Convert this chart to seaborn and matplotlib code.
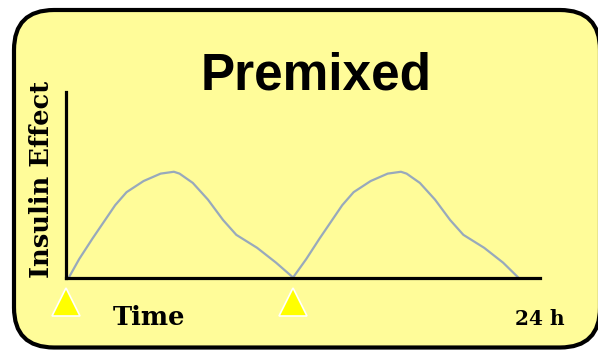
import matplotlib
matplotlib.use("Agg")
import matplotlib.pyplot as plt
from matplotlib.patches import FancyBboxPatch
import seaborn as sns
import pandas as pd

# Insulin action profile over one day, two premixed injections (hours, relative effect)
hours = [0.15, 0.7, 1.4, 2.0, 2.6, 3.2, 4.1, 5.0, 5.7, 6.0, 6.7, 7.5, 8.3, 9.0, 10.1, 11.1, 12.0,
         12.7, 13.4, 14.0, 14.6, 15.2, 16.1, 17.0, 17.7, 18.0, 18.7, 19.5, 20.3, 21.0, 22.1, 23.1, 23.9]
effect = [0, 10, 21, 30, 39, 46, 52, 56, 57, 56, 51, 42, 31, 23, 16, 8, 0,
          10, 21, 30, 39, 46, 52, 56, 57, 56, 51, 42, 31, 23, 16, 8, 0]
injection_hours = [0, 12]

title = "Premixed"
y_label = "Insulin Effect"
x_label = "Time"
end_label = "24 h"

sns.set_style("white")
plt.rcParams["font.family"] = ["DejaVu Sans"]
plt.rcParams["text.color"] = "black"

W, H, DPI = 598, 351, 100
fig = plt.figure(figsize=(W / DPI, H / DPI), dpi=DPI)
fig.patch.set_facecolor("white")

# rounded panel, drawn in inches so the corners stay circular
px = 1.0 / DPI
panel = FancyBboxPatch((14 * px, (H - 347.5) * px), 586 * px, 337.5 * px,
                       boxstyle=f"round,pad=0,rounding_size={40 * px}",
                       transform=fig.dpi_scale_trans, facecolor="#FFFC99",
                       edgecolor="black", linewidth=3.0, zorder=-1)
fig.patches.append(panel)

# axes placed in pixel terms
left, right, bottom, top = 66, 540, H - 277.5, H - 92
ax = fig.add_axes([left / W, bottom / H, (right - left) / W, (top - bottom) / H])
ax.patch.set_alpha(0)

df = pd.DataFrame({"hours": hours, "effect": effect})
sns.lineplot(data=df, x="hours", y="effect", ax=ax, color="#98A9BC", linewidth=1.6)

ax.set_xlim(0, 25.05)
ax.set_ylim(0, 100)
ax.set_xticks([])
ax.set_yticks([])
ax.set_xlabel("")
ax.set_ylabel("")
for side in ("top", "right"):
    ax.spines[side].set_visible(False)
for side in ("left", "bottom"):
    ax.spines[side].set_color("black")
    ax.spines[side].set_linewidth(2.3)

# injection markers below the time axis
ax.plot(injection_hours, [-13.2] * len(injection_hours), linestyle="none", marker="^",
        markersize=19.5, markerfacecolor="#FFFF00", markeredgecolor="white",
        markeredgewidth=1.2, clip_on=False)

fig.text(316 / W, (H - 90) / H, title, ha="center", va="baseline", color="black",
         fontsize=37, fontweight="bold", family=["Liberation Sans", "DejaVu Sans"])
fig.text(149 / W, (H - 325) / H, x_label, ha="center", va="baseline", color="black",
         fontsize=18.5, fontweight="bold", family=["DejaVu Serif"])
fig.text(540 / W, (H - 325) / H, end_label, ha="center", va="baseline", color="black",
         fontsize=14.5, fontweight="bold", family=["DejaVu Serif"])
fig.text(42 / W, (H - 179.5) / H, y_label, ha="center", va="center", rotation=90, color="black",
         fontsize=18.5, fontweight="bold", family=["DejaVu Serif"])

fig.savefig("out.png", dpi=DPI)
